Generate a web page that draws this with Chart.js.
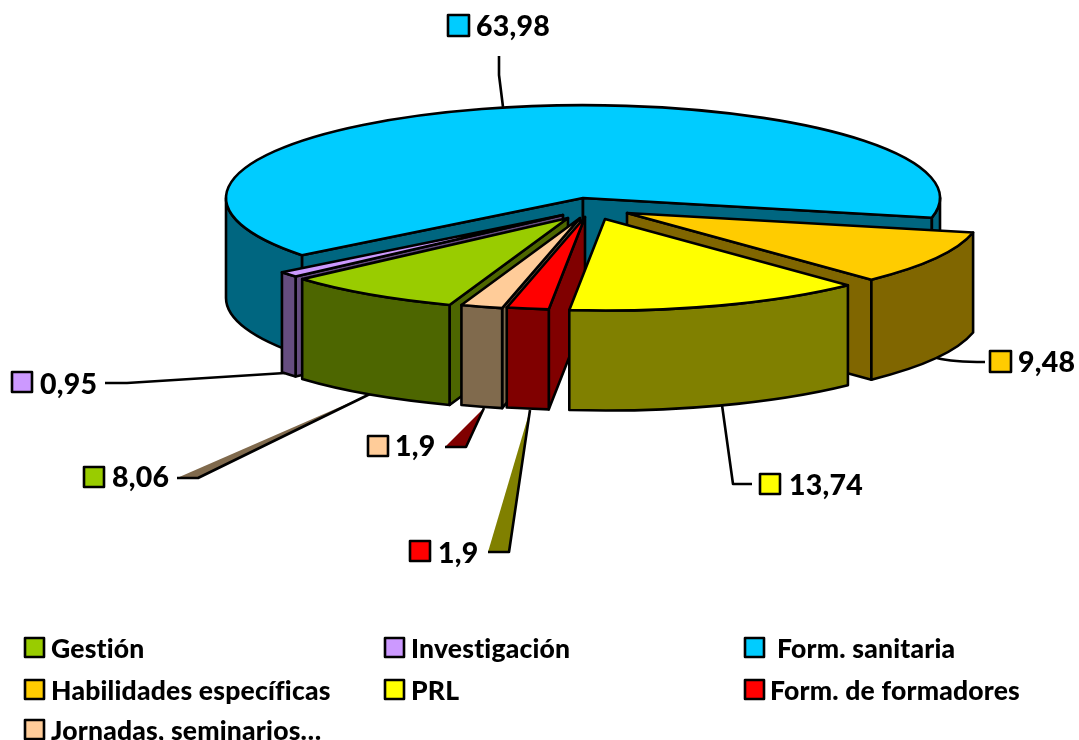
<!DOCTYPE html>
<html>
<head>
<meta charset="utf-8">
<script src="https://cdn.jsdelivr.net/npm/chart.js@4/dist/chart.umd.min.js"></script>
<style>
    html, body { margin: 0; padding: 0; background: #fff; overflow: hidden; }
    canvas { display: block; }
</style>
</head>
<body>
<canvas id="pieChart" width="1079" height="740"></canvas>
<script>
const categories = ['Gestión', 'Investigación', 'Form. sanitaria', 'Habilidades específicas', 'PRL', 'Form. de formadores', 'Jornadas, seminarios…'];
const values = [8.06, 0.95, 63.98, 9.48, 13.74, 1.9, 1.9];

const faceColors = ['#99CC00', '#CC99FF', '#00CCFF', '#FFCC00', '#FFFF00', '#FF0000', '#FFCC99'];
const wallColors = ['#4D6600', '#664D80', '#006680', '#806600', '#808000', '#800000', '#806A4D'];

// pie look: each slice tip on the page, its size, and far-to-near paint order
const sliceTips = [[568, 218], [563, 215], [583, 198], [627, 213], [605, 219], [585, 217], [580, 218]];
const sliceSizes = [0.994, 1, 1, 0.992, 0.986, 1, 0.995];
const paintOrder = [2, 1, 3, 0, 6, 5, 4];
const TILT = 0.26;
const DEPTH = 100;
const LINE = 2.6;
const FONT = '900 28.5px Lato';
const LEGEND_FONT = '900 26.5px Lato';

// data label places: key square x, y, size, text x, text middle y
const labelSpots = [
    [84, 467, 20, 112, 478],
    [12, 372, 20, 40, 385],
    [448, 15, 21, 476, 27],
    [990, 351, 21, 1018, 363],
    [760, 474, 20, 789, 486],
    [410, 541, 20, 438, 554],
    [368, 436, 20, 395, 447],
];
// legend places: key x, middle y, text x
const legendSpots = [
    [25, 648, 51],
    [385, 648, 411],
    [745, 648, 777],
    [25, 690, 51],
    [385, 690, 411],
    [745, 690, 770],
    [25, 730, 51],
];

function wallPath(ctx, x, y, r, from, to) {
    ctx.beginPath();
    ctx.ellipse(x, y, r, r * TILT, 0, from, to);
    ctx.ellipse(x, y + DEPTH, r, r * TILT, 0, to, from, true);
    ctx.closePath();
}

function paintShape(ctx, fill) {
    ctx.fillStyle = fill;
    ctx.fill();
    ctx.stroke();
}

function flatWall(ctx, x, y, r, a, fill) {
    const px = x + Math.cos(a) * r;
    const py = y + Math.sin(a) * r * TILT;
    ctx.beginPath();
    ctx.moveTo(x, y);
    ctx.lineTo(px, py);
    ctx.lineTo(px, py + DEPTH);
    ctx.lineTo(x, y + DEPTH);
    ctx.closePath();
    paintShape(ctx, fill);
}

function drawSlice(ctx, arc, i) {
    const [x, y] = sliceTips[i];
    const size = sliceSizes[i];
    const r = arc.outerRadius * size;
    const start = arc.startAngle;
    const end = arc.endAngle;

    // flat walls, only when they turn towards us
    if (Math.cos(start) < 0) flatWall(ctx, x, y, r, start, wallColors[i]);
    if (Math.cos(end) > 0) flatWall(ctx, x, y, r, end, wallColors[i]);

    // rim wall, only the part that faces us
    for (let k = -1; k <= 2; k++) {
        const from = Math.max(start, k * 2 * Math.PI);
        const to = Math.min(end, k * 2 * Math.PI + Math.PI);
        if (from < to) {
            wallPath(ctx, x, y, r, from, to);
            paintShape(ctx, wallColors[i]);
        }
    }

    // top face comes from the library arc, squashed
    ctx.save();
    ctx.translate(x, y);
    ctx.scale(size, TILT * size);
    ctx.translate(-arc.x, -arc.y);
    arc.draw(ctx);
    ctx.restore();

    ctx.beginPath();
    ctx.moveTo(x, y);
    ctx.ellipse(x, y, r, r * TILT, 0, start, end);
    ctx.closePath();
    ctx.stroke();
}

function drawLeaders(ctx) {
    const lines = [
        [[499, 56], [499, 75], [503, 107]],
        [[105, 383], [127, 383], [285, 373]],
        [[722, 405], [733, 484], [752, 484]],
    ];
    lines.forEach(pts => {
        ctx.beginPath();
        pts.forEach((p, n) => n ? ctx.lineTo(p[0], p[1]) : ctx.moveTo(p[0], p[1]));
        ctx.stroke();
    });
    ctx.beginPath();
    ctx.moveTo(937, 358);
    ctx.quadraticCurveTo(952, 362, 985, 362);
    ctx.stroke();

    // three of the leaders come out as thin wedges
    const wedges = [
        ['#806A4D', [177, 478], [198, 478], [372, 393]],
        ['#800000', [445, 447], [466, 447], [484, 408]],
        ['#808000', [488, 552], [509, 552], [530, 410]],
    ];
    wedges.forEach(([fill, a, b, c]) => {
        ctx.beginPath();
        ctx.moveTo(a[0], a[1]);
        ctx.lineTo(b[0], b[1]);
        ctx.lineTo(c[0], c[1]);
        ctx.closePath();
        ctx.fillStyle = fill;
        ctx.fill();
        ctx.beginPath();
        ctx.moveTo(a[0], a[1]);
        ctx.lineTo(b[0], b[1]);
        ctx.lineTo(c[0], c[1]);
        ctx.stroke();
    });
}

function drawTexts(ctx) {
    ctx.textBaseline = 'middle';
    ctx.textAlign = 'left';
    // a little spacing also stops Lato joining the "ti" in Gestión
    ctx.letterSpacing = '0.2px';

    values.forEach((v, i) => {
        const [kx, ky, size, tx, ty] = labelSpots[i];
        ctx.fillStyle = faceColors[i];
        ctx.fillRect(kx, ky, size, size);
        ctx.strokeRect(kx, ky, size, size);
        ctx.fillStyle = '#000';
        ctx.font = FONT;
        ctx.fillText(String(v).replace('.', ','), tx, ty);
    });

    categories.forEach((name, i) => {
        const [kx, my, tx] = legendSpots[i];
        ctx.fillStyle = faceColors[i];
        ctx.fillRect(kx, my - 10, 19, 19);
        ctx.strokeRect(kx, my - 10, 19, 19);
        ctx.fillStyle = '#000';
        ctx.font = LEGEND_FONT;
        ctx.fillText(name, tx, my + 1);
    });
}

const tiltedPie = {
    id: 'tiltedPie',
    beforeDatasetsDraw(chart) {
        const ctx = chart.ctx;
        const arcs = chart.getDatasetMeta(0).data;
        ctx.save();
        ctx.strokeStyle = '#000';
        ctx.lineWidth = LINE;
        ctx.lineJoin = 'round';
        drawLeaders(ctx);
        paintOrder.forEach(i => drawSlice(ctx, arcs[i], i));
        drawTexts(ctx);
        ctx.restore();
        return false;
    },
};

new Chart(document.getElementById('pieChart').getContext('2d'), {
    type: 'pie',
    data: {
        labels: categories,
        datasets: [{
            data: values,
            backgroundColor: faceColors,
            borderWidth: 0,
        }],
    },
    options: {
        responsive: false,
        animation: false,
        rotation: 199.5,
        radius: 357,
        plugins: {
            legend: { display: false },
            tooltip: { enabled: false },
        },
    },
    plugins: [tiltedPie],
});
</script>
</body>
</html>
